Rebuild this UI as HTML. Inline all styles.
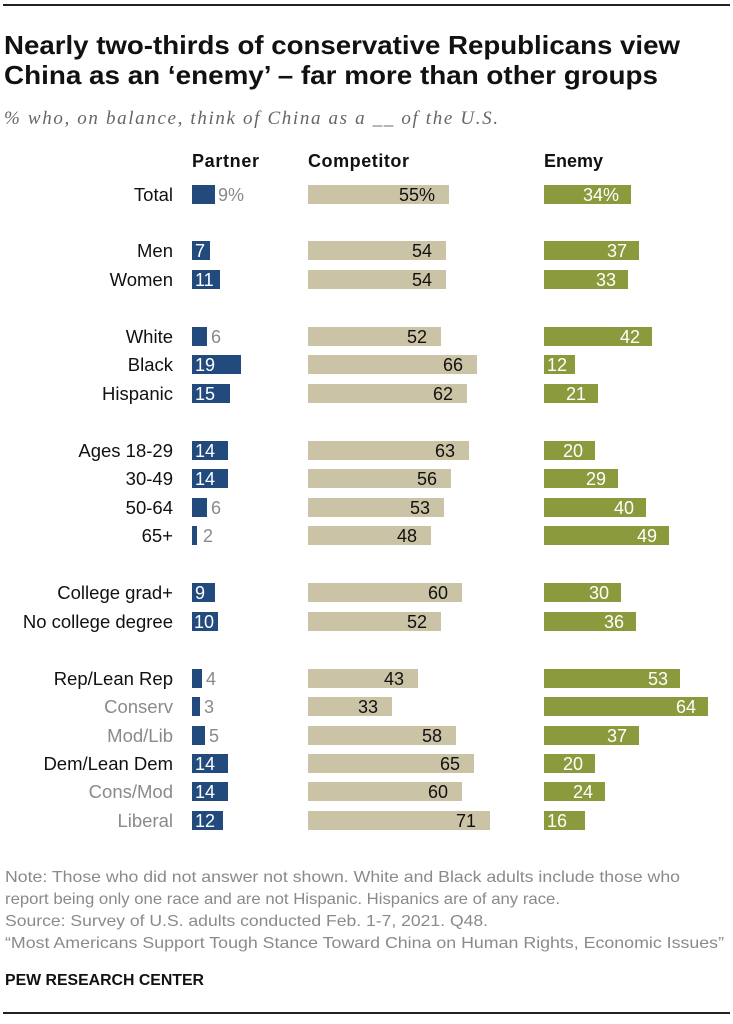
<!DOCTYPE html>
<html><head><meta charset="utf-8"><style>
body{margin:0;background:#fff;width:733px;height:1024px;overflow:hidden}
svg{display:block;font-family:"Liberation Sans",sans-serif}
.l{font-size:18.5px;fill:#111;text-anchor:end}
.g{fill:#8a8a8a}
.p{fill:#234a7d}.c{fill:#cbc3a5}.e{fill:#8b9a3d}
.w{font-size:18px;fill:#fff}
.k{font-size:18px;fill:#111;text-anchor:end}
.o{font-size:18px;fill:#8a8a8a}
.we{font-size:18px;fill:#fff;text-anchor:end}
</style></head><body>
<svg width="733" height="1024" viewBox="0 0 733 1024">
<rect x="3" y="4" width="727" height="2" fill="#222"/>
<text x="4" y="54" font-size="26" font-weight="bold" fill="#111" textLength="676" lengthAdjust="spacingAndGlyphs">Nearly two-thirds of conservative Republicans view</text>
<text x="4" y="84" font-size="26" font-weight="bold" fill="#111" textLength="654" lengthAdjust="spacingAndGlyphs">China as an ‘enemy’ – far more than other groups</text>
<text x="4" y="124" font-size="19" font-style="italic" fill="#666" font-family="Liberation Serif,serif" textLength="494">% who, on balance, think of China as a __ of the U.S.</text>
<text x="192" y="167" font-size="18" font-weight="bold" fill="#111" textLength="67">Partner</text>
<text x="308" y="167" font-size="18" font-weight="bold" fill="#111" textLength="101">Competitor</text>
<text x="544" y="167" font-size="18" font-weight="bold" fill="#111" textLength="59">Enemy</text>

<text class="l" x="173" y="201">Total</text>
<text class="l" x="173" y="257">Men</text>
<text class="l" x="173" y="286">Women</text>
<text class="l" x="173" y="343">White</text>
<text class="l" x="173" y="371">Black</text>
<text class="l" x="173" y="400">Hispanic</text>
<text class="l" x="173" y="457">Ages 18-29</text>
<text class="l" x="173" y="485">30-49</text>
<text class="l" x="173" y="514">50-64</text>
<text class="l" x="173" y="542">65+</text>
<text class="l" x="173" y="599">College grad+</text>
<text class="l" x="173" y="628">No college degree</text>
<text class="l" x="173" y="685">Rep/Lean Rep</text>
<text class="l g" x="173" y="713">Conserv</text>
<text class="l g" x="173" y="742">Mod/Lib</text>
<text class="l" x="173" y="770">Dem/Lean Dem</text>
<text class="l g" x="173" y="798">Cons/Mod</text>
<text class="l g" x="173" y="827">Liberal</text>

<rect class="p" x="192" y="185" width="23" height="19"/><text class="o" x="218" y="201">9%</text>
<rect class="p" x="192" y="241" width="18" height="19"/><text class="w" x="195" y="257">7</text>
<rect class="p" x="192" y="270" width="28" height="19"/><text class="w" x="195" y="286">11</text>
<rect class="p" x="192" y="327" width="15" height="19"/><text class="o" x="211" y="343">6</text>
<rect class="p" x="192" y="355" width="49" height="19"/><text class="w" x="195" y="371">19</text>
<rect class="p" x="192" y="384" width="38" height="19"/><text class="w" x="195" y="400">15</text>
<rect class="p" x="192" y="441" width="36" height="19"/><text class="w" x="195" y="457">14</text>
<rect class="p" x="192" y="469" width="36" height="19"/><text class="w" x="195" y="485">14</text>
<rect class="p" x="192" y="498" width="15" height="19"/><text class="o" x="211" y="514">6</text>
<rect class="p" x="192" y="526" width="5" height="19"/><text class="o" x="203" y="542">2</text>
<rect class="p" x="192" y="583" width="23" height="19"/><text class="w" x="195" y="599">9</text>
<rect class="p" x="192" y="612" width="26" height="19"/><text class="w" x="194" y="628">10</text>
<rect class="p" x="192" y="669" width="10" height="19"/><text class="o" x="206" y="685">4</text>
<rect class="p" x="192" y="697" width="8" height="19"/><text class="o" x="204" y="713">3</text>
<rect class="p" x="192" y="726" width="13" height="19"/><text class="o" x="209" y="742">5</text>
<rect class="p" x="192" y="754" width="36" height="19"/><text class="w" x="195" y="770">14</text>
<rect class="p" x="192" y="782" width="36" height="19"/><text class="w" x="195" y="798">14</text>
<rect class="p" x="192" y="811" width="31" height="19"/><text class="w" x="195" y="827">12</text>

<rect class="c" x="308" y="185" width="141" height="19"/><text class="k" x="435" y="201">55%</text>
<rect class="c" x="308" y="241" width="138" height="19"/><text class="k" x="432" y="257">54</text>
<rect class="c" x="308" y="270" width="138" height="19"/><text class="k" x="432" y="286">54</text>
<rect class="c" x="308" y="327" width="133" height="19"/><text class="k" x="427" y="343">52</text>
<rect class="c" x="308" y="355" width="169" height="19"/><text class="k" x="463" y="371">66</text>
<rect class="c" x="308" y="384" width="159" height="19"/><text class="k" x="453" y="400">62</text>
<rect class="c" x="308" y="441" width="161" height="19"/><text class="k" x="455" y="457">63</text>
<rect class="c" x="308" y="469" width="143" height="19"/><text class="k" x="437" y="485">56</text>
<rect class="c" x="308" y="498" width="136" height="19"/><text class="k" x="430" y="514">53</text>
<rect class="c" x="308" y="526" width="123" height="19"/><text class="k" x="417" y="542">48</text>
<rect class="c" x="308" y="583" width="154" height="19"/><text class="k" x="448" y="599">60</text>
<rect class="c" x="308" y="612" width="133" height="19"/><text class="k" x="427" y="628">52</text>
<rect class="c" x="308" y="669" width="110" height="19"/><text class="k" x="404" y="685">43</text>
<rect class="c" x="308" y="697" width="84" height="19"/><text class="k" x="378" y="713">33</text>
<rect class="c" x="308" y="726" width="148" height="19"/><text class="k" x="442" y="742">58</text>
<rect class="c" x="308" y="754" width="166" height="19"/><text class="k" x="460" y="770">65</text>
<rect class="c" x="308" y="782" width="154" height="19"/><text class="k" x="448" y="798">60</text>
<rect class="c" x="308" y="811" width="182" height="19"/><text class="k" x="476" y="827">71</text>

<rect class="e" x="544" y="185" width="87" height="19"/><text class="we" x="619" y="201">34%</text>
<rect class="e" x="544" y="241" width="95" height="19"/><text class="we" x="627" y="257">37</text>
<rect class="e" x="544" y="270" width="84" height="19"/><text class="we" x="616" y="286">33</text>
<rect class="e" x="544" y="327" width="108" height="19"/><text class="we" x="640" y="343">42</text>
<rect class="e" x="544" y="355" width="31" height="19"/><text class="we" x="567" y="371">12</text>
<rect class="e" x="544" y="384" width="54" height="19"/><text class="we" x="586" y="400">21</text>
<rect class="e" x="544" y="441" width="51" height="19"/><text class="we" x="583" y="457">20</text>
<rect class="e" x="544" y="469" width="74" height="19"/><text class="we" x="606" y="485">29</text>
<rect class="e" x="544" y="498" width="102" height="19"/><text class="we" x="634" y="514">40</text>
<rect class="e" x="544" y="526" width="125" height="19"/><text class="we" x="657" y="542">49</text>
<rect class="e" x="544" y="583" width="77" height="19"/><text class="we" x="609" y="599">30</text>
<rect class="e" x="544" y="612" width="92" height="19"/><text class="we" x="624" y="628">36</text>
<rect class="e" x="544" y="669" width="136" height="19"/><text class="we" x="668" y="685">53</text>
<rect class="e" x="544" y="697" width="164" height="19"/><text class="we" x="696" y="713">64</text>
<rect class="e" x="544" y="726" width="95" height="19"/><text class="we" x="627" y="742">37</text>
<rect class="e" x="544" y="754" width="51" height="19"/><text class="we" x="583" y="770">20</text>
<rect class="e" x="544" y="782" width="61" height="19"/><text class="we" x="593" y="798">24</text>
<rect class="e" x="544" y="811" width="41" height="19"/><text class="we" x="567" y="827">16</text>

<g font-size="16" fill="#8a8a8a">
<text x="5" y="882" textLength="675" lengthAdjust="spacingAndGlyphs">Note: Those who did not answer not shown. White and Black adults include those who</text>
<text x="5" y="904" textLength="555" lengthAdjust="spacingAndGlyphs">report being only one race and are not Hispanic. Hispanics are of any race.</text>
<text x="5" y="926" textLength="483" lengthAdjust="spacingAndGlyphs">Source: Survey of U.S. adults conducted Feb. 1-7, 2021. Q48.</text>
<text x="5" y="948" textLength="719" lengthAdjust="spacingAndGlyphs">“Most Americans Support Tough Stance Toward China on Human Rights, Economic Issues”</text>
</g>
<text x="5" y="985" font-size="16" font-weight="bold" fill="#111" textLength="199" lengthAdjust="spacingAndGlyphs">PEW RESEARCH CENTER</text>
<rect x="3" y="1012" width="727" height="2" fill="#222"/>
</svg>
</body></html>
